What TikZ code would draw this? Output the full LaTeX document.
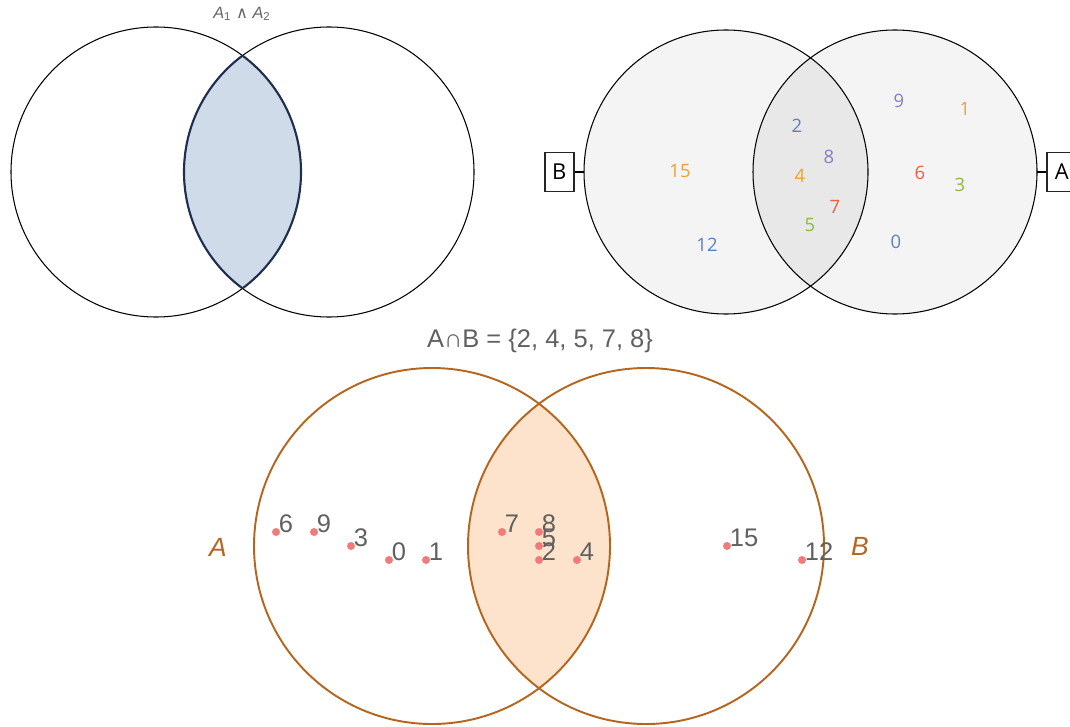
\documentclass[tikz,border=0pt]{standalone}
\usepackage{fontspec}
\setmainfont{Liberation Sans}
\newfontfamily\numfont{Open Sans}
\newfontfamily\symfont{DejaVu Sans}
\usepackage{tikz}
\usetikzlibrary{positioning}
\usepackage{xcolor}
\definecolor{lensblue}{HTML}{CFDBE8}
\definecolor{lensnavy}{HTML}{1F2F4F}
\definecolor{setgray}{HTML}{F4F4F4}
\definecolor{lensgray}{HTML}{E8E8E8}
\definecolor{nblue}{HTML}{5B80C0}
\definecolor{norange}{HTML}{E9A23B}
\definecolor{npurple}{HTML}{8A7DBE}
\definecolor{nred}{HTML}{E8643C}
\definecolor{ngreen}{HTML}{8DB83F}
\definecolor{setbrown}{HTML}{B5651D}
\definecolor{peach}{HTML}{FDE3CB}
\definecolor{dotred}{HTML}{F47A7A}
\definecolor{txtgray}{HTML}{606060}

\begin{document}
\begin{tikzpicture}[
  x=0.02cm, y=-0.02cm,
  plain/.style={draw=black, line width=0.6pt},
  numlbl/.style={font=\numfont\fontsize{10.5}{12}\selectfont, inner sep=0pt},
  setbox/.style={draw=black!85, line width=1.1pt, minimum width=0.59cm, minimum height=0.78cm, inner sep=0pt, font=\numfont\fontsize{12.5}{14}\selectfont},
  ring/.style={draw=setbrown, line width=1.1pt},
  dot/.style={circle, fill=dotred, inner sep=0pt, minimum size=0.16cm},
  ptlbl/.style={anchor=base west, inner sep=0pt, xshift=0.05cm, text=txtgray, font=\fontsize{14.5}{16}\selectfont},
  setlbl/.style={text=setbrown, font=\itshape\fontsize{15}{17}\selectfont},
]
\useasboundingbox (0,0) rectangle (1070,726);

% Top left: A1 and A2, lens shaded
\coordinate (a1) at (156,172);
\coordinate (a2) at (329,172);
\begin{scope}
  \clip (a1) circle[radius=145];
  \fill[lensblue] (a2) circle[radius=145];
\end{scope}
\draw[plain] (a1) circle[radius=145];
\draw[plain] (a2) circle[radius=145];
\begin{scope}
  \clip (a1) circle[radius=145];
  \draw[lensnavy, line width=1.2pt] (a2) circle[radius=145];
\end{scope}
\begin{scope}
  \clip (a2) circle[radius=145];
  \draw[lensnavy, line width=1.2pt] (a1) circle[radius=145];
\end{scope}
\node[text=black!60, font=\fontsize{9.3}{11}\selectfont] (andlbl) at (242,14) {\textit{A}\textsubscript{1} {\symfont ∧} \textit{A}\textsubscript{2}};

% Top right: B and A with elements
\coordinate (cb) at (726,172);
\coordinate (ca) at (895,172);
\fill[setgray] (cb) circle[radius=142];
\fill[setgray] (ca) circle[radius=142];
\begin{scope}
  \clip (cb) circle[radius=142];
  \fill[lensgray] (ca) circle[radius=142];
\end{scope}
\draw[plain] (cb) circle[radius=142];
\draw[plain] (ca) circle[radius=142];

\coordinate (bw) at (584,172);
\coordinate (ae) at (1037,172);
\node[setbox, left=0.18cm of bw] (boxB) {B};
\node[setbox, right=0.18cm of ae] (boxA) {A};
\draw[plain] (boxB) -- (bw);
\draw[plain] (boxA) -- (ae);

\node[numlbl, text=npurple] (n9) at (899,101) {9};
\node[numlbl, text=norange] (n1) at (965,109) {1};
\node[numlbl, text=nblue] (n2) at (797,126) {2};
\node[numlbl, text=npurple] (n8) at (829,157) {8};
\node[numlbl, text=norange] (n15) at (680,171) {15};
\node[numlbl, text=norange] (n4) at (800,176) {4};
\node[numlbl, text=nred] (n6) at (920,173) {6};
\node[numlbl, text=ngreen] (n3) at (960,185) {3};
\node[numlbl, text=nred] (n7) at (835,207) {7};
\node[numlbl, text=ngreen] (n5) at (810,225) {5};
\node[numlbl, text=nblue] (n12) at (707,245) {12};
\node[numlbl, text=nblue] (n0) at (896,242) {0};

% Bottom: A and B with points
\coordinate (cA) at (432,546);
\coordinate (cB) at (646,546);
\begin{scope}
  \clip (cA) circle[radius=178];
  \fill[peach] (cB) circle[radius=178];
\end{scope}
\draw[ring] (cA) circle[radius=178];
\draw[ring] (cB) circle[radius=178];

\node[text=txtgray, font=\fontsize{14.5}{16}\selectfont] (isect) at (540,341) {A∩B = \{2, 4, 5, 7, 8\}};
\node[setlbl] (labA) at (218,547) {A};
\node[setlbl] (labB) at (860,546) {B};

\node[dot] (p6) at (276,532) {};
\node[ptlbl] (t6) at (p6) {6};
\node[dot] (p9) at (314,532) {};
\node[ptlbl] (t9) at (p9) {9};
\node[dot] (p3) at (351,546) {};
\node[ptlbl] (t3) at (p3) {3};
\node[dot] (p0) at (389,560) {};
\node[ptlbl] (t0) at (p0) {0};
\node[dot] (p1) at (426,560) {};
\node[ptlbl] (t1) at (p1) {1};
\node[dot] (p7) at (502,532) {};
\node[ptlbl] (t7) at (p7) {7};
\node[dot] (p8) at (539,532) {};
\node[ptlbl] (t8) at (p8) {8};
\node[dot] (p5) at (539,546) {};
\node[ptlbl] (t5) at (p5) {5};
\node[dot] (p2) at (539,560) {};
\node[ptlbl] (t2) at (p2) {2};
\node[dot] (p4) at (577,560) {};
\node[ptlbl] (t4) at (p4) {4};
\node[dot] (p15) at (727,546) {};
\node[ptlbl] (t15) at (p15) {15};
\node[dot] (p12) at (802,560) {};
\node[ptlbl] (t12) at (p12) {12};

\end{tikzpicture}
\end{document}
